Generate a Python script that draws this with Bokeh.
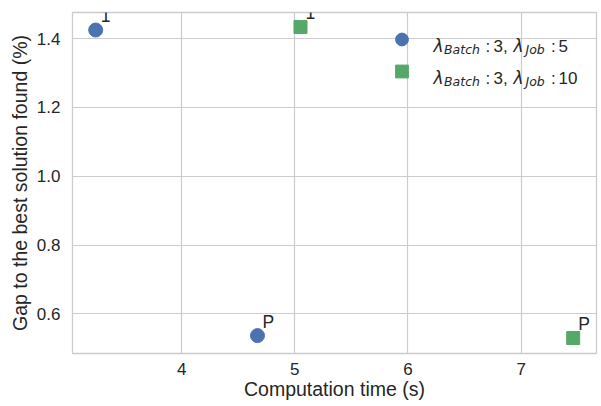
from bokeh.plotting import figure
from bokeh.models import (ColumnDataSource, LabelSet, Label, Legend, LegendItem,
                          FixedTicker, PrintfTickFormatter, Range1d)
from bokeh.core.properties import value
from bokeh.embed import file_html
from bokeh.resources import INLINE

# ---- data ----
series_a_name = "λBatch : 3, λJob : 5"
series_a_x = [3.24, 4.67]
series_a_y = [1.425, 0.537]
series_a_labels = ["1", "P"]

series_b_name = "λBatch : 3, λJob : 10"
series_b_x = [5.05, 7.46]
series_b_y = [1.434, 0.530]
series_b_labels = ["1", "P"]

x_ticks = [4, 5, 6, 7]
y_ticks = [0.6, 0.8, 1.0, 1.2, 1.4]

x_label = "Computation time (s)"
y_label = "Gap to the best solution found (%)"

# legend text pieces: (main symbol, subscript, value)
legend_rows = [
    [("λ", "Batch", "3"), ("λ", "Job", "5")],
    [("λ", "Batch", "3"), ("λ", "Job", "10")],
]

BLUE = "#4C72B0"
GREEN = "#55A868"
TXT = "#262626"
GRID = "#cccccc"
SANS = "Liberation Sans"
MATH = "DejaVu Sans"

p = figure(width=600, height=404, output_backend="svg", toolbar_location=None,
           x_range=Range1d(3.035, 7.666), y_range=Range1d(0.485, 1.476),
           min_border_left=72, min_border_right=4, min_border_top=12,
           min_border_bottom=51)
p.background_fill_color = "white"
p.border_fill_color = "white"
p.outline_line_color = GRID
p.outline_line_width = 1.3

for ax in (p.xaxis[0], p.yaxis[0]):
    ax.axis_line_color = None
    ax.major_tick_line_color = None
    ax.minor_tick_line_color = None
    ax.major_label_text_font = SANS
    ax.major_label_text_font_size = "17px"
    ax.major_label_text_color = TXT
    ax.axis_label_text_font = SANS
    ax.axis_label_text_font_size = "19.5px"
    ax.axis_label_text_font_style = "normal"
    ax.axis_label_text_color = TXT

p.xaxis.ticker = FixedTicker(ticks=x_ticks)
p.yaxis.ticker = FixedTicker(ticks=y_ticks)
p.xaxis.formatter = PrintfTickFormatter(format="%d")
p.yaxis.formatter = PrintfTickFormatter(format="%.1f")
p.xaxis.axis_label = x_label
p.yaxis.axis_label = y_label
p.xaxis.major_label_standoff = 3
p.yaxis.major_label_standoff = 6
p.xaxis.axis_label_standoff = 0
p.yaxis.axis_label_standoff = 3

p.xgrid.grid_line_color = GRID
p.ygrid.grid_line_color = GRID
p.xgrid.grid_line_width = 1.2
p.ygrid.grid_line_width = 1.2

src_a = ColumnDataSource(dict(x=series_a_x, y=series_a_y, t=series_a_labels))
src_b = ColumnDataSource(dict(x=series_b_x, y=series_b_y, t=series_b_labels))

ra = p.scatter("x", "y", source=src_a, marker="circle", size=14,
               fill_color=BLUE, line_color=BLUE)
rb = p.scatter("x", "y", source=src_b, marker="square", size=13,
               fill_color=GREEN, line_color=GREEN)

for src in (src_a, src_b):
    ls = LabelSet(x="x", y="y", text="t", source=src, x_offset=5, y_offset=8,
                  text_font=value(SANS), text_font_size=value("17.5px"),
                  text_color=TXT, text_baseline="alphabetic",
                  text_align="left", level="overlay")
    p.add_layout(ls)

legend = Legend(items=[LegendItem(label=" ", renderers=[ra]),
                       LegendItem(label=" ", renderers=[rb])],
                location=(312, 266), glyph_width=35, glyph_height=32,
                spacing=0, padding=0, margin=0, label_text_font_size="1px",
                label_width=1, label_height=1, label_standoff=0,
                border_line_alpha=0, background_fill_alpha=0)
p.add_layout(legend, "center")

# legend texts (screen coords relative to frame)
row_baselines = [307.5, 275.5]
for row, base in zip(legend_rows, row_baselines):
    (s1, sub1, v1), (s2, sub2, v2) = row
    pieces = [
        (s1, 361, 0, MATH, "17px", "italic"),
        (sub1, 371.5, -3, MATH, "12.5px", "italic"),
        (":", 413, 0, SANS, "17px", "normal"),
        (v1 + ",", 421, 0, SANS, "17px", "normal"),
        (s2, 441, 0, MATH, "17px", "italic"),
        (sub2, 453, -3, MATH, "12.5px", "italic"),
        (":", 478.5, 0, SANS, "17px", "normal"),
        (v2, 486, 0, SANS, "17px", "normal"),
    ]
    for txt, px, dy, font, size, style in pieces:
        p.add_layout(Label(x=px, y=base + dy, x_units="screen", y_units="screen",
                           text=txt, text_font=font, text_font_size=size,
                           text_font_style=style, text_color=TXT,
                           text_baseline="alphabetic", text_align="left"))

open("out.html", "w").write(file_html(p, INLINE))
